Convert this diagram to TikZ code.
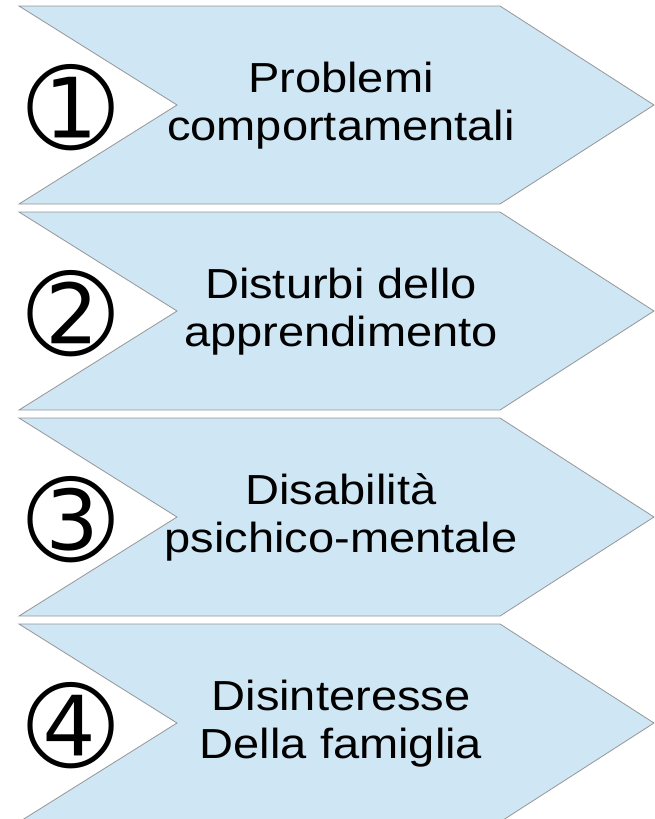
\documentclass[tikz,border=0pt]{standalone}
\usepackage{fontspec}
\setmainfont{Liberation Sans}
\newfontfamily\labelfont[FakeStretch=1.12]{Liberation Sans}
\newfontfamily\numfont{DejaVu Sans}
\definecolor{chevfill}{RGB}{207,230,244}
\definecolor{chevline}{RGB}{150,150,150}

\begin{document}
\begin{tikzpicture}[x=1pt,y=-1pt,
  chevron/.style={fill=chevfill,draw=chevline,line width=0.8pt,line join=miter},
  steplabel/.style={align=center,inner sep=0pt,font=\labelfont\fontsize{42}{47.4}\selectfont},
  stepnum/.style={inner sep=0pt,font=\numfont\fontsize{104}{104}\selectfont}]
\useasboundingbox (0,0) rectangle (655,819);
\foreach \i/\txt in {1/{Problemi\\comportamentali},
                     2/{Disturbi dello\\apprendimento},
                     3/{Disabilità\\psichico-mentale},
                     4/{Disinteresse\\Della famiglia}} {
  \pgfmathsetmacro{\top}{6+206*(\i-1)}
  \draw[chevron] (19,\top) -- (500,\top) -- (654,\top+99) -- (500,\top+198)
    -- (19,\top+198) -- (177,\top+99) -- cycle;
  \node[stepnum] (num\i) at (71,\top+101.5) {\ifcase\i\or➀\or➁\or➂\or➃\fi};
  \node[steplabel] (label\i) at (341,\top+99.5) {\txt};
}
\end{tikzpicture}
\end{document}
